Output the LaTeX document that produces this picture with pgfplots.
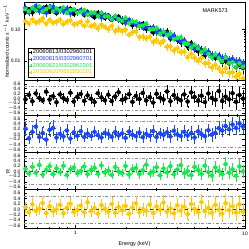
\documentclass[border=0pt]{standalone}
\usepackage{fontspec}
\setmainfont{Liberation Sans}
\usepackage{pgfplots}
\usepackage{pgfplotstable}
\pgfplotsset{compat=1.18}
\definecolor{cK}{RGB}{0,0,0}
\definecolor{cB}{RGB}{25,70,255}
\definecolor{cG}{RGB}{20,235,70}
\definecolor{cY}{RGB}{255,200,0}

\pgfplotstableread{
x y e r
0.510 0.365 0.14 -0.04
0.534 0.444 0.12 0.14
0.560 0.351 0.16 -0.12
0.587 0.490 0.13 0.20
0.615 0.417 0.15 0.02
0.644 0.372 0.12 -0.09
0.675 0.519 0.14 0.27
0.708 0.388 0.17 -0.05
0.741 0.440 0.13 0.09
0.777 0.335 0.15 -0.16
0.814 0.457 0.12 0.16
0.853 0.393 0.16 0.01
0.894 0.353 0.14 -0.07
0.937 0.456 0.13 0.23
0.982 0.314 0.17 -0.13
1.029 0.373 0.15 0.06
1.078 0.404 0.14 0.18
1.130 0.295 0.16 -0.10
1.184 0.356 0.13 0.12
1.240 0.298 0.18 -0.02
1.300 0.246 0.15 -0.15
1.362 0.339 0.14 0.21
1.427 0.277 0.17 0.04
1.496 0.236 0.16 -0.08
1.567 0.279 0.15 0.15
1.642 0.203 0.18 -0.11
1.721 0.236 0.16 0.08
1.803 0.255 0.14 0.25
1.890 0.179 0.19 -0.06
1.980 0.181 0.17 0.00
2.075 0.200 0.16 0.17
2.175 0.137 0.18 -0.14
2.279 0.162 0.17 0.10
2.388 0.132 0.20 -0.03
2.502 0.151 0.16 0.22
2.622 0.105 0.19 -0.09
2.748 0.112 0.18 0.05
2.879 0.0812 0.21 -0.17
3.017 0.106 0.17 0.19
3.162 0.0842 0.20 0.03
3.313 0.0704 0.19 -0.05
3.472 0.0851 0.22 0.28
3.638 0.0518 0.18 -0.12
3.812 0.0601 0.21 0.13
3.995 0.0475 0.20 0.00
4.186 0.0393 0.23 -0.08
4.387 0.0441 0.19 0.16
4.597 0.0289 0.22 -0.13
4.817 0.0365 0.24 0.24
5.048 0.0272 0.21 0.06
5.290 0.0205 0.23 -0.10
5.543 0.0221 0.25 0.11
5.809 0.0153 0.22 -0.15
6.087 0.0194 0.26 0.20
6.379 0.0150 0.24 0.02
6.684 0.0125 0.27 -0.06
7.004 0.0148 0.25 0.30
7.340 0.0093 0.28 -0.11
7.691 0.0102 0.26 0.07
8.060 0.0084 0.29 -0.04
8.446 0.0098 0.27 0.21
8.850 0.0064 0.30 -0.14
9.274 0.0077 0.28 0.14
9.719 0.0061 0.31 -0.01
}\tabK

\pgfplotstableread{
x y e r
0.510 0.488 0.24 0.22
0.534 0.349 0.20 -0.15
0.560 0.462 0.22 0.10
0.587 0.559 0.26 0.30
0.615 0.387 0.19 -0.10
0.644 0.452 0.23 0.05
0.675 0.344 0.21 -0.20
0.708 0.507 0.25 0.18
0.741 0.531 0.27 0.25
0.777 0.370 0.20 -0.12
0.814 0.423 0.22 0.02
0.853 0.377 0.18 -0.08
0.894 0.460 0.24 0.15
0.937 0.328 0.19 -0.16
0.982 0.410 0.21 0.08
1.029 0.352 0.17 -0.05
1.078 0.403 0.20 0.12
1.130 0.311 0.18 -0.10
1.184 0.345 0.19 0.03
1.240 0.301 0.16 -0.06
1.300 0.336 0.18 0.10
1.362 0.286 0.17 -0.03
1.427 0.246 0.19 -0.12
1.496 0.286 0.16 0.06
1.567 0.258 0.18 0.01
1.642 0.218 0.17 -0.09
1.721 0.251 0.19 0.09
1.803 0.206 0.16 -0.04
1.890 0.208 0.18 0.04
1.980 0.165 0.17 -0.13
2.075 0.200 0.20 0.11
2.175 0.166 0.18 -0.01
2.279 0.144 0.19 -0.07
2.388 0.153 0.17 0.07
2.502 0.116 0.20 -0.11
2.622 0.123 0.18 0.02
2.748 0.106 0.21 -0.05
2.879 0.116 0.19 0.13
3.017 0.0846 0.20 -0.10
3.162 0.0894 0.18 0.04
3.313 0.0764 0.21 -0.02
3.472 0.0756 0.19 0.08
3.638 0.0570 0.22 -0.08
3.812 0.0638 0.20 0.14
3.995 0.0500 0.21 0.00
4.186 0.0423 0.19 -0.06
4.387 0.0440 0.22 0.10
4.597 0.0336 0.20 -0.04
4.817 0.0326 0.23 0.05
5.048 0.0238 0.21 -0.12
5.290 0.0269 0.22 0.12
5.543 0.0212 0.20 0.01
5.809 0.0177 0.23 -0.07
6.087 0.0197 0.21 0.16
6.379 0.0153 0.24 -0.01
6.684 0.0148 0.22 0.06
7.004 0.0149 0.25 0.24
7.340 0.0127 0.23 0.15
7.691 0.0132 0.26 0.32
8.060 0.0110 0.24 0.20
8.446 0.0117 0.27 0.38
8.850 0.0098 0.25 0.25
9.274 0.0101 0.28 0.42
9.719 0.0085 0.26 0.30
}\tabB

\pgfplotstableread{
x y e r
0.510 0.440 0.13 0.10
0.534 0.377 0.11 -0.08
0.560 0.496 0.14 0.18
0.587 0.409 0.12 -0.05
0.615 0.538 0.15 0.25
0.644 0.378 0.12 -0.12
0.675 0.452 0.13 0.05
0.708 0.516 0.14 0.20
0.741 0.383 0.12 -0.10
0.777 0.470 0.14 0.12
0.814 0.403 0.13 -0.03
0.853 0.500 0.15 0.22
0.894 0.344 0.12 -0.14
0.937 0.421 0.14 0.08
0.982 0.437 0.15 0.15
1.029 0.344 0.13 -0.07
1.078 0.367 0.14 0.02
1.130 0.411 0.15 0.19
1.184 0.298 0.13 -0.11
1.240 0.339 0.15 0.06
1.300 0.348 0.14 0.14
1.362 0.268 0.13 -0.09
1.427 0.344 0.16 0.23
1.496 0.259 0.14 -0.04
1.567 0.263 0.15 0.03
1.642 0.209 0.14 -0.13
1.721 0.269 0.16 0.17
1.803 0.215 0.15 0.00
1.890 0.188 0.14 -0.06
1.980 0.230 0.17 0.21
2.075 0.158 0.15 -0.12
2.175 0.183 0.16 0.09
2.279 0.175 0.17 0.13
2.388 0.129 0.15 -0.10
2.502 0.135 0.16 0.04
2.622 0.152 0.18 0.26
2.748 0.103 0.16 -0.08
2.879 0.102 0.17 -0.01
3.017 0.109 0.18 0.16
3.162 0.0731 0.16 -0.15
3.313 0.0866 0.18 0.11
3.472 0.0672 0.17 -0.04
3.638 0.0744 0.19 0.20
3.812 0.0498 0.17 -0.11
3.995 0.0535 0.18 0.07
4.186 0.0558 0.20 0.24
4.387 0.0372 0.18 -0.07
4.597 0.0354 0.19 0.01
4.817 0.0267 0.18 -0.14
5.048 0.0319 0.21 0.18
5.290 0.0252 0.19 0.05
5.543 0.0191 0.20 -0.09
5.809 0.0232 0.22 0.22
6.087 0.0165 0.20 -0.03
6.379 0.0130 0.21 -0.16
6.684 0.0161 0.23 0.15
7.004 0.0122 0.21 0.02
7.340 0.0099 0.22 -0.10
7.691 0.0128 0.24 0.28
8.060 0.0087 0.22 -0.05
8.446 0.0092 0.23 0.08
8.850 0.0065 0.22 -0.17
9.274 0.0084 0.25 0.19
9.719 0.0065 0.23 0.00
}\tabG

\pgfplotstableread{
x y e r
0.510 0.184 0.18 0.08
0.534 0.155 0.16 -0.10
0.560 0.208 0.20 0.19
0.587 0.168 0.17 -0.05
0.615 0.183 0.19 0.03
0.644 0.222 0.21 0.24
0.675 0.157 0.16 -0.13
0.708 0.202 0.18 0.12
0.741 0.166 0.17 -0.07
0.777 0.176 0.19 0.00
0.814 0.204 0.20 0.17
0.853 0.147 0.16 -0.14
0.894 0.178 0.18 0.06
0.937 0.198 0.21 0.21
0.982 0.147 0.17 -0.09
1.029 0.154 0.18 -0.02
1.078 0.174 0.20 0.14
1.130 0.132 0.17 -0.11
1.184 0.180 0.22 0.26
1.240 0.130 0.18 -0.06
1.300 0.140 0.19 0.05
1.362 0.109 0.17 -0.15
1.427 0.143 0.21 0.16
1.496 0.121 0.18 0.02
1.567 0.104 0.19 -0.08
1.642 0.130 0.22 0.20
1.721 0.0898 0.18 -0.12
1.803 0.106 0.20 0.09
1.890 0.0892 0.19 -0.03
1.980 0.0994 0.21 0.13
2.075 0.0689 0.18 -0.16
2.175 0.0813 0.20 0.07
2.279 0.0854 0.23 0.22
2.388 0.0585 0.19 -0.10
2.502 0.0596 0.21 0.01
2.622 0.0523 0.20 -0.05
2.748 0.0590 0.23 0.18
2.879 0.0400 0.19 -0.13
3.017 0.0466 0.22 0.11
3.162 0.0376 0.21 -0.01
3.313 0.0438 0.24 0.25
3.472 0.0285 0.20 -0.08
3.638 0.0291 0.22 0.04
3.812 0.0215 0.21 -0.14
3.995 0.0253 0.24 0.15
4.186 0.0192 0.22 -0.04
4.387 0.0198 0.25 0.10
4.597 0.0133 0.21 -0.17
4.817 0.0170 0.26 0.20
5.048 0.0128 0.23 0.02
5.290 0.0102 0.24 -0.09
5.543 0.0127 0.27 0.27
5.809 0.0085 0.23 -0.06
6.087 0.0085 0.25 0.06
6.379 0.0063 0.24 -0.12
6.684 0.0076 0.28 0.17
7.004 0.0058 0.25 0.00
7.340 0.0044 0.27 -0.15
7.691 0.0058 0.30 0.23
8.060 0.0042 0.26 -0.03
8.446 0.0044 0.29 0.12
8.850 0.0032 0.28 -0.11
9.274 0.0039 0.31 0.19
9.719 0.0028 0.29 -0.07
}\tabY

\begin{document}
\begin{tikzpicture}
\useasboundingbox (-24bp,2bp) rectangle (225bp,-247bp);

% top panel
\begin{axis}[at={(0,0)}, anchor=north west,
  scale only axis, width=221bp, height=78bp,
  xmode=log, xmin=0.5, xmax=10,
  ymode=log, ymin=0.0025, ymax=0.75,
  /pgf/number format/assume math mode=true,
  tick label style={font=\fontsize{5}{6}\selectfont},
  tick align=inside, major tick length=3bp, minor tick length=1.5bp,
  xtick={1,10}, xticklabels={},
  minor xtick={0.5,0.6,0.7,0.8,0.9,2,3,4,5,6,7,8,9},
  axis line style={line width=0.4pt},
  every tick/.style={black, line width=0.3pt},
  ytick={0.01,0.1}, yticklabels={0.01,0.10},
  ylabel={Normalized counts s$^{-1}$ keV$^{-1}$},
  ylabel style={font=\fontsize{5}{6}\selectfont},
  ylabel shift=-5bp,
  legend style={at={(0.018,0.41)}, anchor=north west,
    font=\fontsize{5.8}{6}\selectfont, draw=black, line width=0.3pt,
    inner sep=1bp, row sep=0bp, fill=white,
    nodes={inner sep=0.5bp}},
  legend cell align=left]
\addplot[cK, forget plot, only marks, mark=none, error bars/y dir=both, error bars/x dir=both, error bars/x fixed relative=0.024, error bars/y explicit relative, error bars/error mark options={mark size=0.8bp, line width=0.3pt}, error bars/error bar style={line width=0.35pt}] table[x=x, y=y, y error=e] {\tabK};
\addplot[cB, forget plot, only marks, mark=none, error bars/y dir=both, error bars/x dir=both, error bars/x fixed relative=0.024, error bars/y explicit relative, error bars/error mark options={mark size=0.8bp, line width=0.3pt}, error bars/error bar style={line width=0.35pt}] table[x=x, y=y, y error=e] {\tabB};
\addplot[cG, forget plot, only marks, mark=none, error bars/y dir=both, error bars/x dir=both, error bars/x fixed relative=0.024, error bars/y explicit relative, error bars/error mark options={mark size=0.8bp, line width=0.3pt}, error bars/error bar style={line width=0.35pt}] table[x=x, y=y, y error=e] {\tabG};
\addplot[cY, forget plot, only marks, mark=none, error bars/y dir=both, error bars/x dir=both, error bars/x fixed relative=0.024, error bars/y explicit relative, error bars/error mark options={mark size=0.8bp, line width=0.3pt}, error bars/error bar style={line width=0.35pt}] table[x=x, y=y, y error=e] {\tabY};
\addlegendimage{only marks, mark=+, mark size=1.6bp, cK}
\addlegendentry{\textcolor{cK}{20060813/0302960101}}
\addlegendimage{only marks, mark=+, mark size=1.6bp, cB}
\addlegendentry{\textcolor{cB}{20060815/0302960701}}
\addlegendimage{only marks, mark=+, mark size=1.6bp, cG}
\addlegendentry{\textcolor{cG}{20060821/0302961001}}
\addlegendimage{only marks, mark=+, mark size=1.6bp, cY}
\addlegendentry{\textcolor{cY}{20100820/0653550201}}
\node[font=\fontsize{5.5}{6}\selectfont] at (rel axis cs:0.865,0.895) {MARK573};
\end{axis}

% black residuals
\begin{axis}[at={(0,-78bp)}, anchor=north west,
  scale only axis, width=221bp, height=35bp,
  xmode=log, xmin=0.5, xmax=10, ymin=-0.68, ymax=0.75,
  /pgf/number format/assume math mode=true,
  tick label style={font=\fontsize{5}{6}\selectfont},
  tick align=inside, major tick length=3bp, minor tick length=1.5bp,
  xtick={1,10}, xticklabels={},
  minor xtick={0.5,0.6,0.7,0.8,0.9,2,3,4,5,6,7,8,9},
  axis line style={line width=0.4pt},
  every tick/.style={black, line width=0.3pt},
  ytick={-0.6,-0.4,-0.2,0,0.2,0.4,0.6},
  yticklabels={$-$0.6,$-$0.4,$-$0.2,0.0,0.2,0.4,0.6}]
\addplot[black!45, dash dot, line width=0.35pt] coordinates {(0.5,-0.5) (10,-0.5)};
\addplot[black!45, dash dot, line width=0.35pt] coordinates {(0.5,0.5) (10,0.5)};
\addplot[cK, only marks, mark=none, error bars/y dir=both, error bars/x dir=both, error bars/x fixed relative=0.024, error bars/y explicit, error bars/error mark options={mark size=0.8bp, line width=0.3pt}, error bars/error bar style={line width=0.35pt}] table[x=x, y=r, y error=e] {\tabK};
\addplot[black!75, dashed, line width=0.4pt] coordinates {(0.5,0) (10,0)};
\end{axis}

% blue residuals
\begin{axis}[at={(0,-113bp)}, anchor=north west,
  scale only axis, width=221bp, height=37bp,
  xmode=log, xmin=0.5, xmax=10, ymin=-0.68, ymax=0.75,
  /pgf/number format/assume math mode=true,
  tick label style={font=\fontsize{5}{6}\selectfont},
  tick align=inside, major tick length=3bp, minor tick length=1.5bp,
  xtick={1,10}, xticklabels={},
  minor xtick={0.5,0.6,0.7,0.8,0.9,2,3,4,5,6,7,8,9},
  axis line style={line width=0.4pt},
  every tick/.style={black, line width=0.3pt},
  ytick={-0.6,-0.4,-0.2,0,0.2,0.4,0.6},
  yticklabels={$-$0.6,$-$0.4,$-$0.2,0.0,0.2,0.4,0.6}]
\addplot[black!45, dash dot, line width=0.35pt] coordinates {(0.5,-0.5) (10,-0.5)};
\addplot[black!45, dash dot, line width=0.35pt] coordinates {(0.5,0.5) (10,0.5)};
\addplot[cB, only marks, mark=none, error bars/y dir=both, error bars/x dir=both, error bars/x fixed relative=0.024, error bars/y explicit, error bars/error mark options={mark size=0.8bp, line width=0.3pt}, error bars/error bar style={line width=0.35pt}] table[x=x, y=r, y error=e] {\tabB};
\addplot[black!75, dashed, line width=0.4pt] coordinates {(0.5,0) (10,0)};
\end{axis}

% green residuals
\begin{axis}[at={(0,-150bp)}, anchor=north west,
  scale only axis, width=221bp, height=37bp,
  xmode=log, xmin=0.5, xmax=10, ymin=-0.68, ymax=0.75,
  /pgf/number format/assume math mode=true,
  tick label style={font=\fontsize{5}{6}\selectfont},
  tick align=inside, major tick length=3bp, minor tick length=1.5bp,
  xtick={1,10}, xticklabels={},
  minor xtick={0.5,0.6,0.7,0.8,0.9,2,3,4,5,6,7,8,9},
  axis line style={line width=0.4pt},
  every tick/.style={black, line width=0.3pt},
  ytick={-0.6,-0.4,-0.2,0,0.2,0.4,0.6},
  yticklabels={$-$0.6,$-$0.4,$-$0.2,0.0,0.2,0.4,0.6}]
\addplot[black!45, dash dot, line width=0.35pt] coordinates {(0.5,-0.5) (10,-0.5)};
\addplot[black!45, dash dot, line width=0.35pt] coordinates {(0.5,0.5) (10,0.5)};
\addplot[cG, only marks, mark=none, error bars/y dir=both, error bars/x dir=both, error bars/x fixed relative=0.024, error bars/y explicit, error bars/error mark options={mark size=0.8bp, line width=0.3pt}, error bars/error bar style={line width=0.35pt}] table[x=x, y=r, y error=e] {\tabG};
\addplot[black!75, dashed, line width=0.4pt] coordinates {(0.5,0) (10,0)};
\end{axis}
\node[font=\fontsize{5.5}{6}\selectfont, rotate=90] at (-16bp,-170bp) {R};

% yellow residuals
\begin{axis}[at={(0,-187bp)}, anchor=north west,
  scale only axis, width=221bp, height=39bp,
  xmode=log, xmin=0.5, xmax=10, ymin=-0.68, ymax=0.75,
  /pgf/number format/assume math mode=true,
  tick label style={font=\fontsize{5}{6}\selectfont},
  tick align=inside, major tick length=3bp, minor tick length=1.5bp,
  xtick={1,10}, xticklabels={1,10},
  minor xtick={0.5,0.6,0.7,0.8,0.9,2,3,4,5,6,7,8,9},
  axis line style={line width=0.4pt},
  every tick/.style={black, line width=0.3pt},
  ytick={-0.6,-0.4,-0.2,0,0.2,0.4,0.6},
  yticklabels={$-$0.6,$-$0.4,$-$0.2,0.0,0.2,0.4,0.6},
  xlabel={Energy (keV)},
  xlabel style={font=\fontsize{5.5}{6}\selectfont}]
\addplot[black!45, dash dot, line width=0.35pt] coordinates {(0.5,-0.5) (10,-0.5)};
\addplot[black!45, dash dot, line width=0.35pt] coordinates {(0.5,0.5) (10,0.5)};
\addplot[cY, only marks, mark=none, error bars/y dir=both, error bars/x dir=both, error bars/x fixed relative=0.024, error bars/y explicit, error bars/error mark options={mark size=0.8bp, line width=0.3pt}, error bars/error bar style={line width=0.35pt}] table[x=x, y=r, y error=e] {\tabY};
\addplot[black!75, dashed, line width=0.4pt] coordinates {(0.5,0) (10,0)};
\end{axis}
\end{tikzpicture}
\end{document}
